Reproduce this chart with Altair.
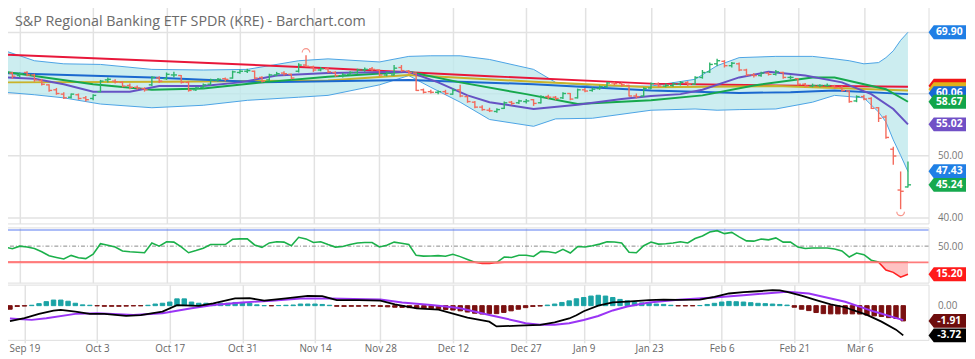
import altair as alt
import pandas as pd

TITLE = "S&P Regional Banking ETF SPDR (KRE) - Barchart.com"

TICK_IDX = [2, 12, 22, 32, 42, 51, 61, 71, 79, 88, 98, 108, 117]
TICK_LBL = ["Sep 19", "Oct 3", "Oct 17", "Oct 31", "Nov 14", "Nov 28", "Dec 12",
            "Dec 27", "Jan 9", "Jan 23", "Feb 6", "Feb 21", "Mar 6"]

OPEN = [62.8, 63.3, 62.9, 63.4, 63.0, 62.1, 61.4, 60.6, 59.9, 59.4,
        59.8, 59.3, 59.2, 60.3, 62.2, 62.0, 61.8, 61.3, 61.0, 60.8,
        61.4, 62.5, 62.4, 63.0, 62.9, 61.8, 60.6, 61.0, 61.5, 62.2,
        62.4, 62.5, 63.4, 63.6, 63.6, 62.6, 62.2, 63.0, 63.3, 63.1,
        63.6, 64.6, 64.3, 63.8, 64.0, 63.4, 62.9, 63.1, 63.4, 63.8,
        64.0, 63.8, 63.0, 63.0, 64.2, 63.6, 63.3, 60.6, 60.3, 60.2,
        60.3, 59.9, 60.6, 59.5, 58.6, 57.8, 57.3, 57.1, 57.6, 58.6,
        58.5, 58.7, 59.0, 58.5, 59.5, 59.4, 59.3, 60.0, 59.3, 60.6,
        60.5, 60.8, 61.1, 61.7, 61.6, 61.3, 59.6, 59.6, 60.9, 61.6,
        61.2, 61.3, 61.5, 61.8, 61.5, 62.6, 63.5, 64.8, 65.2, 64.5,
        64.8, 63.8, 63.0, 62.9, 63.3, 63.1, 63.4, 62.6, 62.4, 61.5,
        61.2, 61.3, 61.3, 61.2, 61.0, 60.4, 58.8, 59.5, 59.2, 57.7,
        56.2, 51.0, 44.4, 44.9]
HIGH = [63.6, 63.5, 63.4, 63.6, 63.2, 62.4, 61.5, 60.9, 60.2, 60.0,
        60.0, 59.6, 59.9, 62.2, 62.6, 62.3, 62.0, 61.6, 61.3, 61.0,
        62.8, 62.8, 63.4, 63.5, 63.0, 62.0, 61.1, 61.6, 62.4, 62.5,
        62.6, 63.7, 63.9, 64.0, 63.7, 62.8, 63.2, 63.5, 63.6, 63.2,
        64.9, 66.2, 64.5, 64.3, 64.2, 63.6, 63.3, 63.6, 64.0, 64.2,
        64.3, 63.9, 63.5, 64.6, 64.6, 63.8, 63.4, 60.8, 60.6, 60.5,
        60.6, 60.8, 61.4, 59.7, 58.8, 58.1, 57.7, 57.6, 58.7, 58.8,
        59.0, 59.1, 59.1, 59.7, 59.8, 59.6, 60.2, 60.1, 60.8, 60.9,
        61.0, 61.3, 61.9, 61.9, 61.8, 61.4, 60.0, 61.0, 61.8, 61.8,
        61.6, 61.8, 62.0, 62.0, 62.8, 63.8, 65.0, 65.6, 65.4, 65.1,
        65.0, 64.0, 63.3, 63.5, 63.5, 63.8, 63.5, 62.9, 62.5, 61.7,
        61.6, 61.5, 61.6, 61.4, 61.2, 60.5, 59.7, 59.8, 59.4, 57.8,
        56.5, 51.4, 47.4, 49.0]
LOW = [62.5, 62.4, 62.6, 62.8, 61.9, 61.3, 60.3, 59.8, 59.1, 59.2,
       59.0, 58.7, 58.9, 60.2, 61.8, 61.6, 61.0, 60.7, 60.6, 60.3,
       61.2, 61.7, 62.2, 62.6, 61.6, 60.3, 60.4, 60.8, 61.3, 61.9,
       62.0, 62.4, 63.2, 63.3, 62.3, 61.8, 62.0, 62.8, 62.9, 62.3,
       63.4, 64.3, 63.5, 63.6, 63.3, 62.7, 62.6, 62.9, 63.2, 63.5,
       63.6, 62.8, 62.8, 62.9, 63.5, 63.2, 60.4, 60.0, 60.0, 59.9,
       59.8, 59.8, 59.4, 58.5, 57.6, 57.2, 57.0, 56.9, 57.5, 58.1,
       58.3, 58.4, 58.0, 58.4, 59.1, 58.9, 59.1, 58.9, 59.2, 60.2,
       60.3, 60.6, 60.9, 61.3, 61.1, 59.5, 59.2, 59.5, 60.7, 61.0,
       61.0, 61.1, 61.3, 61.2, 61.4, 62.4, 63.3, 64.4, 64.2, 64.2,
       63.6, 62.8, 62.6, 62.7, 62.9, 62.9, 62.4, 62.3, 61.3, 61.0,
       61.0, 61.0, 61.1, 60.8, 60.3, 58.5, 58.6, 58.9, 57.5, 55.4,
       52.7, 48.5, 41.3, 44.8]
CLOSE = [63.4, 62.8, 63.2, 63.0, 62.2, 61.5, 60.5, 60.0, 59.3, 59.9,
         59.2, 59.0, 59.7, 62.0, 62.3, 61.9, 61.2, 61.0, 60.9, 60.6,
         62.6, 62.0, 63.1, 63.0, 61.8, 60.5, 60.9, 61.4, 62.2, 62.3,
         62.3, 63.5, 63.6, 63.7, 62.5, 62.0, 63.0, 63.2, 63.2, 62.5,
         64.6, 64.4, 63.8, 64.0, 63.5, 62.9, 63.0, 63.4, 63.8, 63.9,
         63.9, 63.0, 63.3, 64.1, 63.7, 63.4, 60.5, 60.2, 60.2, 60.3,
         60.0, 60.5, 59.6, 58.7, 57.8, 57.4, 57.2, 57.4, 58.5, 58.4,
         58.8, 58.8, 58.4, 59.5, 59.4, 59.2, 60.0, 59.1, 60.6, 60.4,
         60.7, 61.1, 61.7, 61.6, 61.4, 59.6, 59.5, 60.8, 61.6, 61.2,
         61.3, 61.5, 61.8, 61.5, 62.6, 63.4, 64.7, 65.3, 64.5, 64.9,
         63.8, 63.0, 62.9, 63.3, 63.1, 63.5, 62.6, 62.6, 61.5, 61.2,
         61.3, 61.3, 61.3, 61.0, 60.5, 58.7, 59.5, 59.1, 57.6, 56.0,
         52.9, 49.9, 44.2, 45.24]

# Bollinger bands (sampled days)
BB_I = [0, 4, 8, 13, 20, 27, 33, 40, 44, 51, 55, 58, 62, 66, 72, 75, 80, 88, 94, 97,
        100, 105, 110, 113, 115, 117, 119, 120, 121, 122, 123]
BB_UP = [66.9, 65.3, 64.8, 64.7, 63.9, 63.8, 63.9, 65.3, 65.6, 65.1, 66.0, 66.1, 66.1, 65.5,
         63.9, 61.8, 61.2, 61.2, 62.3, 64.5, 65.8, 66.0, 66.0, 65.6, 65.3, 64.8, 65.0, 65.8,
         66.9, 68.6, 69.9]
BB_LO = [60.2, 59.8, 59.3, 58.3, 57.7, 58.1, 58.9, 59.4, 59.7, 61.4, 62.9, 61.0, 58.6, 55.8,
         54.7, 55.9, 56.0, 57.3, 57.5, 57.3, 57.4, 57.5, 58.6, 59.7, 59.5, 59.3, 57.0, 55.4,
         52.5, 50.0, 47.4]

RED_I = [0, 22, 44, 66, 88, 105, 123]
RED_V = [66.3, 65.2, 64.1, 62.8, 61.6, 61.3, 61.1]
GOLD_I = [0, 22, 44, 55, 72, 88, 105, 123]
GOLD_V = [61.8, 61.9, 62.1, 63.0, 61.9, 61.0, 61.2, 60.5]
BLUE_I = [0, 20, 35, 44, 55, 72, 88, 100, 107, 113, 123]
BLUE_V = [63.3, 62.6, 61.8, 62.0, 62.2, 61.5, 60.5, 60.1, 60.2, 60.5, 59.9]
GREEN_I = [0, 12, 20, 27, 35, 44, 55, 62, 71, 78, 88, 95, 102, 110, 113, 120, 123]
GREEN_V = [63.5, 61.5, 60.6, 60.8, 61.8, 62.7, 63.5, 61.8, 59.9, 58.3, 58.9, 59.7, 61.3,
           62.6, 62.6, 60.7, 58.67]
PURP_I = [0, 4, 8, 12, 17, 21, 27, 32, 37, 44, 55, 59, 63, 66, 72, 78, 84, 88, 92, 95,
          100, 104, 109, 114, 118, 121, 123]
PURP_V = [62.6, 62.4, 61.5, 60.3, 60.3, 61.2, 61.2, 61.8, 62.9, 63.3, 63.5, 61.8, 59.7,
          58.6, 57.5, 58.2, 59.1, 59.6, 59.9, 60.6, 62.6, 63.5, 62.9, 61.8, 59.9, 57.5, 55.02]

RSI = [48.8, 46.7, 50.0, 49.0, 47.0, 43.0, 38.0, 36.0, 34.0, 38.5,
       35.5, 34.5, 40.0, 53.0, 51.0, 48.8, 44.0, 43.0, 42.5, 41.8,
       54.0, 50.0, 55.5, 55.0, 49.0, 41.8, 44.5, 47.5, 52.0, 52.0,
       52.0, 58.5, 59.0, 59.0, 51.5, 48.5, 54.0, 55.5, 55.0, 50.5,
       61.0, 59.0, 54.5, 55.5, 52.0, 48.8, 49.5, 52.0, 54.0, 54.5,
       54.5, 49.0, 51.0, 55.0, 53.5, 52.0, 38.6, 37.6, 37.8, 38.2,
       37.4, 40.0, 37.0, 33.5, 30.0, 28.6, 28.4, 29.6, 36.5, 35.9,
       38.6, 38.6, 37.2, 43.5, 43.0, 41.6, 46.0, 41.5, 49.5, 49.0,
       50.5, 52.5, 55.5, 55.2, 54.0, 42.5, 41.8, 50.5, 55.0, 52.5,
       53.0, 54.0, 55.5, 54.0, 59.5, 62.5, 67.5, 69.2, 65.5, 67.0,
       61.5, 56.5, 56.2, 58.8, 57.8, 60.2, 55.0, 55.0, 48.8, 47.0,
       47.6, 47.6, 47.6, 46.5, 44.0, 36.5, 41.4, 39.4, 32.5, 30.4,
       20.3, 17.5, 11.5, 15.2]

HIST = [-0.45, -0.1, -0.05, 0.05, 0.25, 0.5, 0.7, 0.7, 0.55, 0.3,
        0.1, 0.05, -0.02, -0.08, -0.08, -0.08, -0.06, -0.03, -0.02, 0.05,
        0.2, 0.3, 0.45, 0.85, 0.85, 0.45, 0.3, 0.3, 0.25, 0.3,
        0.3, 0.4, 0.4, 0.3, 0.1, 0.0, -0.02, 0.02, 0.05, 0.08,
        0.2, 0.2, 0.2, 0.15, 0.05, -0.08, -0.1, -0.08, -0.08, -0.05,
        -0.05, -0.1, -0.15, -0.2, -0.22, -0.25, -0.3, -0.35, -0.38, -0.42,
        -0.48, -0.55, -0.65, -0.8, -0.95, -1.05, -1.0, -1.0, -0.85, -0.65,
        -0.45, -0.25, -0.1, -0.05, 0.07, 0.2, 0.4, 0.6, 0.86, 1.02,
        1.2, 1.3, 1.2, 1.02, 0.78, 0.6, 0.4, 0.35, 0.29, 0.2,
        0.16, 0.05, -0.03, -0.03, -0.02, 0.02, 0.15, 0.29, 0.45, 0.53,
        0.49, 0.45, 0.37, 0.29, 0.25, 0.2, 0.15, 0.07, -0.2, -0.45,
        -0.62, -0.86, -1.0, -1.03, -1.03, -1.03, -1.03, -1.05, -1.19, -1.28,
        -1.36, -1.5, -1.6, -1.91]

MACD_I = [0, 2, 4, 6, 7, 9, 11, 13, 16, 18, 21, 23, 26, 28, 31, 33, 35, 38, 41, 43, 45,
          48, 51, 53, 56, 59, 63, 66, 67, 70, 73, 75, 77, 78, 79, 81, 83, 85, 88, 90, 92,
          95, 97, 99, 101, 103, 105, 106, 107, 109, 111, 113, 115, 116, 118, 120, 122, 123]
MACD_V = [-1.95, -1.57, -1.03, -0.62, -0.54, -0.74, -1.03, -1.03, -1.28, -1.2, -0.74, 0.07,
          -0.04, 0.28, 0.9, 0.94, 0.62, 0.9, 1.23, 1.2, 0.69, 0.69, 0.62, 0.15, -0.33, -0.5,
          -1.5, -2.0, -2.6, -2.5, -2.4, -2.1, -1.6, -1.2, -0.7, 0.0, 0.4, 0.5, 0.7, 0.75,
          0.72, 0.75, 1.1, 1.52, 1.7, 1.8, 1.93, 1.9, 1.73, 1.25, 0.7, 0.16, -0.2, -0.54,
          -1.16, -2.0, -3.0, -3.72]
SIG_I = [0, 3, 5, 9, 12, 17, 21, 25, 28, 32, 36, 40, 44, 49, 51, 54, 58, 60, 62, 65, 66,
         70, 71, 73, 75, 77, 79, 81, 83, 85, 88, 92, 97, 101, 107, 110, 115, 119, 123]
SIG_V = [-1.6, -1.78, -1.57, -1.03, -0.95, -1.16, -0.95, -0.33, 0.07, 0.4, 0.62, 0.9, 0.9,
         0.8, 0.78, 0.4, 0.07, -0.12, -0.33, -0.95, -1.16, -1.98, -2.19, -2.4, -2.4, -2.2,
         -1.8, -1.3, -0.6, -0.1, 0.4, 0.75, 1.02, 1.31, 1.73, 1.52, 0.49, -0.74, -1.81]

# (text, value, colour); an empty text means the tag's label is hidden by the next tag
PRICE_TAGS = [("69.90", 69.90, "#1f7fe5"), ("", 61.25, "#f01515"),
              ("", 60.70, "#e0b21a"), ("60.06", 60.06, "#1769d6"),
              ("58.67", 58.67, "#12a54a"), ("55.02", 55.02, "#7150c6"),
              ("47.43", 47.43, "#1f7fe5"), ("45.24", 45.24, "#16a94e")]
RSI_TAGS = [("15.20", 15.20, "#ff1a1a")]
MACD_TAGS = [("-1.91", -1.91, "#6e0d0d"), ("-3.72", -3.72, "#000000")]

W = 938
GRID = "#e2e2e2"
FONT = "Open Sans"
TAG_PATH = "M-1,0 L-0.72,-0.37 L1,-0.37 L1,0.37 L-0.72,0.37 Z"

label_expr = " : ".join(f"datum.value == {i} ? '{t}'" for i, t in zip(TICK_IDX, TICK_LBL)) + " : ''"
XS = alt.Scale(domain=[-0.27, 125.8], nice=False, zero=False)


def X(field="i", labels=False):
    if labels:
        ax = alt.Axis(values=TICK_IDX, grid=True, gridColor=GRID, gridWidth=1.5, labels=True,
                      labelExpr=label_expr, labelColor="#666", labelFontSize=10, labelFont=FONT,
                      ticks=True, tickSize=3, tickColor=GRID, tickWidth=1.5, domain=False,
                      labelPadding=1, title=None, labelFlush=False)
    else:
        ax = alt.Axis(values=TICK_IDX, grid=True, gridColor=GRID, gridWidth=1.5, labels=False,
                      ticks=False, domain=False, title=None)
    return alt.X(f"{field}:Q", scale=XS, axis=ax)


def make_y(domain, values, grid, shown_below=None):
    sc = alt.Scale(domain=domain, nice=False, zero=False)
    kw = {}
    if shown_below is not None:
        kw["labelExpr"] = f"datum.value < {shown_below} ? datum.label : ''"
    ax = alt.Axis(orient="right", values=values, format=".2f", grid=grid, gridColor=GRID,
                  gridWidth=1.5, labelColor="#777", labelFontSize=10, labelFont=FONT,
                  ticks=False, domain=False, labelPadding=9, title=None, **kw)

    def Y(field):
        return alt.Y(f"{field}:Q", scale=sc, axis=ax)
    return Y


PY = make_y([39.0, 74.56], [40, 50, 60, 70], True, shown_below=55)
RY = make_y([4.74, 73.24], [50], False)
MY = make_y([-4.28, 2.63], [0], False)


def tag_layers(tags, Y):
    out = []
    for txt, val, col in tags:
        df = pd.DataFrame({"v": [val], "t": [txt]})
        out.append(alt.Chart(df).mark_point(shape=TAG_PATH, size=1444, filled=True, color=col,
                                            opacity=1, strokeWidth=0)
                   .encode(x=alt.value(957), y=Y("v")))
        if txt:
            out.append(alt.Chart(df).mark_text(color="white", fontWeight="bold", fontSize=10.5,
                                               font=FONT, align="center", baseline="middle")
                       .encode(x=alt.value(959), y=Y("v"), text="t:N"))
    return out


# ---------- price panel ----------
n = len(CLOSE)
ohlc = pd.DataFrame({"i": list(range(n)), "o": OPEN, "h": HIGH, "l": LOW, "c": CLOSE})
bb = pd.DataFrame({"i": BB_I, "up": BB_UP, "lo": BB_LO})

ma_rows = []
for name, col, I, V in [("red", "#e8173a", RED_I, RED_V), ("gold", "#c9b32a", GOLD_I, GOLD_V),
                        ("blue", "#1b68cf", BLUE_I, BLUE_V), ("green", "#16a84c", GREEN_I, GREEN_V),
                        ("purple", "#6652c4", PURP_I, PURP_V)]:
    for i, v in zip(I, V):
        ma_rows.append({"i": i, "v": v, "s": name, "col": col})
ma = pd.DataFrame(ma_rows)

bb_area = alt.Chart(bb).mark_area(color="#bfe8ec", opacity=0.8).encode(
    x=X(), y=PY("lo"), y2=alt.Y2("up"))
bb_up = alt.Chart(bb).mark_line(color="#4aa3e5", strokeWidth=1).encode(x=X(), y=PY("up"))
bb_lo = alt.Chart(bb).mark_line(color="#4aa3e5", strokeWidth=1).encode(x=X(), y=PY("lo"))

ma_lines = alt.Chart(ma).mark_line(strokeWidth=2).encode(
    x=X(), y=PY("v"), color=alt.Color("col:N", scale=None), detail="s:N")

base_ohlc = alt.Chart(ohlc).transform_calculate(
    il="datum.i - 0.42", ir="datum.i + 0.42",
    col="datum.c >= datum.o ? '#2db46b' : '#f46a5c'")
hl = base_ohlc.mark_rule(strokeWidth=1.4).encode(
    x=X(), y=PY("l"), y2=alt.Y2("h"), color=alt.Color("col:N", scale=None))
op = base_ohlc.mark_rule(strokeWidth=1.4).encode(
    x=X("il"), x2=alt.X2("i"), y=PY("o"), color=alt.Color("col:N", scale=None))
cl = base_ohlc.mark_rule(strokeWidth=1.4).encode(
    x=X("i"), x2=alt.X2("ir"), y=PY("c"), color=alt.Color("col:N", scale=None))

marks_df = pd.DataFrame({"i": [41, 122], "v": [66.2, 41.3], "k": ["hi", "lo"]})
hi_mark = alt.Chart(marks_df).transform_filter("datum.k == 'hi'").mark_point(
    shape="M-1,0.6 A1,1 0 0 1 1,0.6", size=60, filled=False, color="#f46a5c",
    strokeWidth=1.2, yOffset=-5).encode(x=X(), y=PY("v"))
lo_mark = alt.Chart(marks_df).transform_filter("datum.k == 'lo'").mark_point(
    shape="M-1,-0.6 A1,1 0 0 0 1,-0.6", size=60, filled=False, color="#f46a5c",
    strokeWidth=1.2, yOffset=5).encode(x=X(), y=PY("v"))

title = alt.Chart(pd.DataFrame({"t": [TITLE]})).mark_text(
    align="left", baseline="alphabetic", fontSize=14.5, font=FONT, color="#6b6b6b").encode(
    x=alt.value(12), y=alt.value(23), text="t:N")

price = alt.layer(bb_area, bb_up, bb_lo, ma_lines, hl, op, cl, hi_mark, lo_mark, title,
                  *tag_layers(PRICE_TAGS, PY)).properties(width=W, height=223)

# ---------- RSI panel ----------
rsi_df = pd.DataFrame({"i": list(range(n)), "r": RSI})
rsi_base = alt.Chart(rsi_df).transform_calculate(
    lo="min(datum.r, 30)", hi="max(datum.r, 30)", t="30")
r70 = alt.Chart(pd.DataFrame({"v": [70]})).mark_rule(color="#5b7cf2", strokeWidth=1.2).encode(y=RY("v"))
r50 = alt.Chart(pd.DataFrame({"v": [50]})).mark_rule(
    color="#888", strokeWidth=1, strokeDash=[4, 2, 1, 2]).encode(y=RY("v"))
r30 = alt.Chart(pd.DataFrame({"v": [30]})).mark_rule(color="#ff7b7b", strokeWidth=1.8).encode(y=RY("v"))
r_area = rsi_base.mark_area(color="#ffc2c2", opacity=1).encode(x=X(), y=RY("lo"), y2=alt.Y2("t"))
r_green = rsi_base.mark_line(color="#1bb04a", strokeWidth=1.6).encode(x=X(), y=RY("hi"))
r_red = rsi_base.mark_line(color="#ff2020", strokeWidth=1.6).encode(x=X(), y=RY("lo"))
rsi = alt.layer(r70, r50, r_area, r_green, r_red, r30, *tag_layers(RSI_TAGS, RY)).properties(
    width=W, height=56)

# ---------- MACD panel ----------
hist_df = pd.DataFrame({"i": list(range(n)), "h": HIST})
macd_df = pd.DataFrame({"i": MACD_I, "m": MACD_V})
sig_df = pd.DataFrame({"i": SIG_I, "s": SIG_V})
bars = alt.Chart(hist_df).transform_calculate(
    col="datum.h >= 0 ? '#1aa3a5' : '#7a1010'", z="0").mark_bar(size=4.5, strokeWidth=1).encode(
    x=X(labels=True), y=MY("h"), y2=alt.Y2("z"),
    color=alt.Color("col:N", scale=None), stroke=alt.Stroke("col:N", scale=None))
sig = alt.Chart(sig_df).mark_line(color="#9a34f5", strokeWidth=2).encode(x=X(labels=True), y=MY("s"))
mac = alt.Chart(macd_df).mark_line(color="#000000", strokeWidth=1.8).encode(x=X(labels=True), y=MY("m"))
macd = alt.layer(bars, sig, mac, *tag_layers(MACD_TAGS, MY)).properties(width=W, height=56)

lower = alt.vconcat(rsi, macd, spacing=0)
chart = alt.vconcat(price, lower, spacing=2).resolve_scale(x="independent", y="independent").properties(
    padding={"left": -8, "top": -8, "right": 0, "bottom": 0}
).configure_view(stroke="#d4d4d4", strokeWidth=1.5).configure(background="white")

chart.save("out.html", embed_options={"renderer": "svg", "actions": False})
